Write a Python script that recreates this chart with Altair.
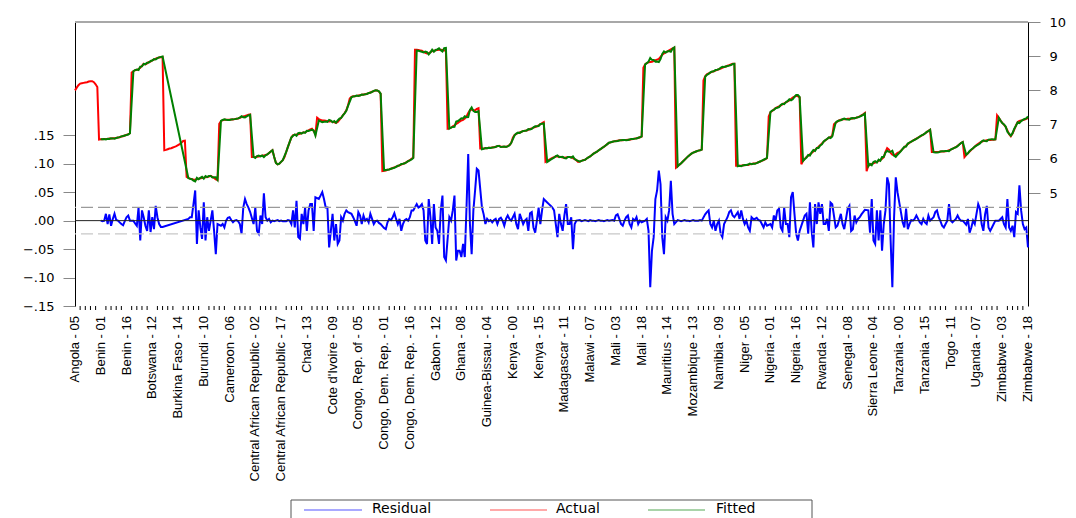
import altair as alt
import pandas as pd

# ---------------- data ----------------
TICK_LABELS = [
    "Angola - 05", "Benin - 01", "Benin - 16", "Botswana - 12", "Burkina Faso - 14",
    "Burundi - 10", "Cameroon - 06", "Central African Republic - 02",
    "Central African Republic - 17", "Chad - 13", "Cote d'Ivoire - 09",
    "Congo, Rep. of - 05", "Congo, Dem. Rep. - 01", "Congo, Dem. Rep. - 16",
    "Gabon - 12", "Ghana - 08", "Guinea-Bissau - 04", "Kenya - 00", "Kenya - 15",
    "Madagascar - 11", "Malawi - 07", "Mali - 03", "Mali - 18", "Mauritius - 14",
    "Mozambique - 13", "Namibia - 09", "Niger - 05", "Nigeria - 01", "Nigeria - 16",
    "Rwanda - 12", "Senegal - 08", "Sierra Leone - 04", "Tanzania - 00",
    "Tanzania - 15", "Togo - 11", "Uganda - 07", "Zimbabwe - 03", "Zimbabwe - 18",
]
SERIES = ["Residual", "Actual", "Fitted"]

ACTUAL = [
    # Angola
    8.00, 8.08, 8.15, 8.20, 8.21, 8.22, 8.23, 8.24, 8.26, 8.27, 8.27, 8.24, 8.18, 8.10,
    # Benin
    6.56, 6.57, 6.57, 6.58, 6.58, 6.58, 6.59, 6.59, 6.60, 6.60, 6.61, 6.62, 6.63, 6.65, 6.66, 6.68, 6.70, 6.72, 6.75,
    # Botswana
    8.52, 8.56, 8.59, 8.60, 8.62, 8.66, 8.72, 8.78, 8.76, 8.79, 8.83, 8.84, 8.88, 8.90, 8.93, 8.95, 8.96, 8.97, 8.98,
    # Burkina Faso
    6.25, 6.26, 6.28, 6.30, 6.31, 6.33, 6.35, 6.37, 6.40, 6.43, 6.47, 6.52, 6.53,
    # Burundi
    5.47, 5.44, 5.42, 5.41, 5.39, 5.39, 5.40, 5.42, 5.43, 5.44, 5.45, 5.46, 5.47, 5.48, 5.50, 5.47, 5.44, 5.40, 5.38,
    # Cameroon
    7.02, 7.10, 7.13, 7.14, 7.14, 7.14, 7.14, 7.15, 7.15, 7.16, 7.17, 7.18, 7.20, 7.22, 7.24, 7.25, 7.27, 7.29, 7.30,
    # Central African Republic
    6.05, 6.05, 6.05, 6.06, 6.07, 6.08, 6.09, 6.10, 6.11, 6.13, 6.17, 6.21, 6.25, 6.05, 5.88, 5.84, 5.86, 5.91, 5.96,
    # Chad
    6.05, 6.20, 6.35, 6.49, 6.62, 6.69, 6.70, 6.71, 6.72, 6.73, 6.75, 6.77, 6.78, 6.80, 6.83, 6.86, 6.88, 6.81, 6.72,
    # Cote d'Ivoire
    7.20, 7.16, 7.14, 7.12, 7.12, 7.11, 7.10, 7.09, 7.10, 7.08, 7.07, 7.05, 7.08, 7.14, 7.20, 7.27, 7.34, 7.42, 7.56,
    # Congo, Rep. of
    7.76, 7.81, 7.83, 7.83, 7.84, 7.85, 7.86, 7.87, 7.88, 7.89, 7.90, 7.92, 7.94, 7.96, 7.98, 8.00, 8.00, 7.97, 7.90,
    # Congo, Dem. Rep.
    5.64, 5.65, 5.66, 5.68, 5.69, 5.71, 5.73, 5.75, 5.77, 5.79, 5.81, 5.83, 5.85, 5.87, 5.90, 5.93, 5.96, 6.00, 6.04,
    # Gabon
    9.19, 9.19, 9.18, 9.17, 9.16, 9.13, 9.10, 9.08, 9.09, 9.12, 9.15, 9.16, 9.17, 9.18, 9.19, 9.19, 9.18, 9.17, 9.17,
    # Ghana
    6.88, 6.89, 6.91, 6.95, 6.98, 7.02, 7.05, 7.09, 7.12, 7.14, 7.18, 7.24, 7.34, 7.42, 7.44, 7.42, 7.42, 7.46, 7.48,
    # Guinea-Bissau
    6.30, 6.30, 6.30, 6.31, 6.31, 6.32, 6.32, 6.33, 6.34, 6.35, 6.37, 6.38, 6.35, 6.35, 6.35, 6.35, 6.37, 6.40, 6.46,
    # Kenya
    6.62, 6.70, 6.73, 6.75, 6.77, 6.79, 6.81, 6.82, 6.83, 6.85, 6.87, 6.89, 6.91, 6.93, 6.95, 6.98, 7.01, 7.04, 7.07,
    # Madagascar
    5.91, 5.94, 5.97, 6.00, 6.03, 6.05, 6.07, 6.07, 6.06, 6.05, 6.04, 6.03, 6.04, 6.05, 6.05, 6.04, 6.02, 5.99, 5.96,
    # Malawi
    5.91, 5.92, 5.94, 5.96, 5.97, 6.01, 6.04, 6.07, 6.11, 6.15, 6.18, 6.21, 6.25, 6.28, 6.32, 6.35, 6.39, 6.43, 6.47,
    # Mali
    6.48, 6.50, 6.51, 6.52, 6.53, 6.54, 6.54, 6.54, 6.55, 6.55, 6.56, 6.56, 6.57, 6.58, 6.59, 6.60, 6.61, 6.63, 6.65,
    # Mauritius
    8.66, 8.76, 8.80, 8.82, 8.83, 8.84, 8.86, 8.88, 8.90, 8.92, 8.98, 9.04, 9.08, 9.11, 9.14, 9.17, 9.20, 9.23, 9.25,
    # Mozambique
    5.74, 5.78, 5.83, 5.87, 5.92, 5.97, 6.02, 6.07, 6.11, 6.15, 6.18, 6.20, 6.22, 6.24, 6.25, 6.27,
    # Namibia
    8.29, 8.41, 8.47, 8.50, 8.52, 8.54, 8.56, 8.58, 8.60, 8.62, 8.64, 8.66, 8.68, 8.70, 8.72, 8.74, 8.76, 8.78, 8.78,
    # Niger
    5.80, 5.80, 5.80, 5.80, 5.81, 5.81, 5.82, 5.82, 5.84, 5.85, 5.86, 5.86, 5.88, 5.90, 5.92, 5.94, 5.96, 5.99, 6.02,
    # Nigeria
    7.24, 7.36, 7.40, 7.44, 7.48, 7.51, 7.53, 7.56, 7.59, 7.62, 7.65, 7.68, 7.71, 7.75, 7.79, 7.82, 7.84, 7.83, 7.79,
    # Rwanda
    5.84, 5.94, 6.00, 6.05, 6.09, 6.13, 6.17, 6.21, 6.26, 6.31, 6.35, 6.40, 6.45, 6.50, 6.54, 6.58, 6.61, 6.64, 6.68,
    # Senegal
    7.01, 7.05, 7.09, 7.12, 7.14, 7.15, 7.16, 7.16, 7.17, 7.17, 7.17, 7.18, 7.19, 7.20, 7.22, 7.24, 7.27, 7.30, 7.34,
    # Sierra Leone
    5.64, 5.80, 5.83, 5.85, 5.87, 5.89, 5.91, 5.94, 5.96, 6.00, 6.05, 6.20, 6.31, 6.27, 6.17, 6.12, 6.10, 6.13, 6.17,
    # Tanzania
    6.19, 6.24, 6.29, 6.34, 6.38, 6.43, 6.47, 6.50, 6.53, 6.56, 6.59, 6.62, 6.65, 6.68, 6.71, 6.74, 6.78, 6.82, 6.85,
    # Togo
    6.20, 6.20, 6.20, 6.20, 6.20, 6.21, 6.21, 6.21, 6.22, 6.23, 6.25, 6.27, 6.29, 6.32, 6.34, 6.38, 6.42, 6.46, 6.49,
    # Uganda
    6.05, 6.11, 6.16, 6.21, 6.26, 6.31, 6.35, 6.40, 6.44, 6.47, 6.50, 6.52, 6.53, 6.54, 6.55, 6.55, 6.56, 6.56, 6.57,
    # Zimbabwe
    7.27, 7.20, 7.12, 7.05, 7.00, 6.93, 6.83, 6.72, 6.66, 6.74, 6.85, 6.98, 7.08, 7.11, 7.12, 7.13, 7.15, 7.17, 7.19,
]

RESIDUAL = [
    # Angola (not estimated)
    None, None, None, None, None, None, None, None, None, None, None, None, None, None,
    # Benin
    None, 0.000, -0.001, 0.000, 0.012, -0.006, 0.011, -0.009, 0.003, 0.012, 0.001, 0.000, -0.003, -0.006, -0.008, -0.001, 0.006, 0.009, 0.000,
    # Botswana
    None, 0.000, -0.005, -0.009, 0.023, -0.035, 0.018, 0.006, -0.009, -0.018, 0.018, -0.020, 0.006, -0.015, 0.026, 0.006, -0.006, -0.011, -0.011,
    # Burkina Faso (not estimated)
    None, None, None, None, None, None, None, None, None, None, None, None, None,
    # Burundi
    None, 0.003, 0.006, 0.006, 0.029, 0.053, -0.041, 0.018, -0.012, -0.032, 0.032, -0.035, 0.006, -0.018, 0.000, 0.018, -0.018, -0.059, -0.006,
    # Cameroon
    None, -0.009, -0.006, -0.012, 0.000, 0.005, 0.006, 0.001, -0.003, 0.000, 0.001, -0.001, -0.006, -0.023, 0.023, 0.038, 0.029, 0.023, 0.015,
    # Central African Republic
    None, -0.006, 0.023, -0.018, -0.023, 0.009, -0.006, 0.048, 0.006, 0.000, 0.003, -0.003, 0.000, -0.001, 0.000, 0.001, -0.001, 0.000, -0.001,
    # Chad
    None, -0.001, 0.001, 0.000, -0.006, 0.018, -0.012, 0.035, -0.029, -0.032, 0.012, -0.006, 0.023, -0.018, 0.018, 0.029, 0.029, -0.018, 0.041,
    # Cote d'Ivoire
    None, 0.038, 0.044, 0.050, 0.038, 0.023, 0.023, -0.047, -0.018, 0.012, -0.035, -0.006, -0.041, -0.035, 0.006, 0.000, 0.012, 0.018, 0.015,
    # Congo, Rep. of
    None, 0.012, 0.006, -0.001, -0.009, 0.015, 0.009, -0.006, 0.009, 0.000, 0.003, -0.003, 0.012, 0.003, -0.006, -0.001, 0.000, -0.004, -0.006,
    # Congo, Dem. Rep.
    None, -0.013, -0.015, -0.003, 0.003, 0.001, 0.006, 0.013, 0.003, -0.006, 0.003, -0.018, -0.006, 0.001, 0.003, 0.000, 0.006, 0.018, 0.018,
    # Gabon
    None, 0.029, 0.023, 0.025, 0.029, 0.018, -0.035, -0.041, 0.038, 0.006, -0.041, 0.029, -0.012, -0.018, -0.041, 0.018, 0.044, -0.064, -0.070,
    # Ghana
    None, 0.006, 0.000, 0.018, 0.044, -0.070, -0.053, -0.053, -0.064, -0.041, -0.064, 0.023, 0.117, -0.006, -0.059, 0.018, 0.053, 0.091, 0.088,
    # Guinea-Bissau
    None, 0.023, 0.011, -0.006, 0.003, -0.001, 0.001, -0.003, 0.001, 0.003, -0.006, 0.003, 0.005, 0.000, -0.009, 0.003, 0.009, 0.003, 0.000,
    # Kenya
    None, 0.012, -0.006, -0.015, 0.012, 0.003, -0.006, 0.000, 0.003, -0.018, 0.013, 0.015, -0.012, -0.021, 0.000, 0.023, -0.006, 0.018, 0.038,
    # Madagascar
    None, 0.032, 0.029, 0.026, 0.023, 0.018, -0.006, -0.029, 0.012, -0.006, -0.018, 0.009, 0.029, -0.006, -0.006, 0.006, -0.050, -0.006, 0.000,
    # Malawi
    None, 0.001, -0.001, 0.000, 0.001, 0.000, -0.001, 0.001, 0.000, 0.000, -0.001, 0.000, 0.001, 0.000, 0.000, -0.001, 0.000, 0.001, 0.000,
    # Mali
    None, 0.001, 0.000, 0.009, 0.011, 0.003, -0.006, -0.009, 0.000, 0.006, 0.009, -0.006, -0.012, 0.003, 0.000, 0.006, -0.006, 0.000, -0.003,
    # Mauritius
    None, 0.000, 0.003, -0.018, -0.117, -0.053, -0.029, 0.038, 0.053, 0.088, 0.064, -0.029, -0.059, 0.006, 0.000, 0.018, 0.070, 0.012, -0.006,
    # Mozambique
    None, 0.001, 0.000, -0.001, 0.000, 0.001, 0.000, 0.000, -0.001, 0.000, 0.001, 0.000, 0.000, 0.000, 0.001, 0.000,
    # Namibia
    None, 0.011, 0.015, 0.018, -0.006, -0.012, 0.000, -0.018, -0.006, 0.000, -0.023, -0.029, -0.006, 0.000, 0.006, 0.015, 0.018, 0.009, 0.006,
    # Niger
    None, 0.015, 0.003, 0.018, 0.003, -0.006, 0.000, -0.012, -0.018, 0.006, 0.003, 0.003, 0.005, 0.001, 0.000, -0.006, -0.012, -0.003, -0.009,
    # Nigeria
    None, -0.006, -0.012, 0.009, 0.000, 0.018, 0.021, -0.012, -0.018, 0.023, -0.006, -0.006, -0.029, 0.041, 0.050, 0.012, -0.023, -0.035, -0.018,
    # Rwanda
    None, 0.000, 0.009, 0.012, -0.023, 0.032, -0.018, -0.047, 0.029, -0.006, 0.032, 0.012, 0.029, -0.006, -0.006, 0.003, -0.018, 0.032, 0.029,
    # Senegal
    None, -0.012, -0.009, 0.001, 0.012, -0.006, -0.015, 0.003, 0.021, 0.026, -0.018, -0.015, 0.009, -0.003, 0.003, 0.006, 0.011, 0.015, 0.019,
    # Sierra Leone
    None, 0.018, -0.021, 0.038, -0.035, -0.041, 0.018, -0.035, 0.018, -0.053, -0.006, 0.018, 0.076, 0.064, -0.035, -0.117, 0.006, 0.076, 0.050,
    # Tanzania
    None, 0.015, -0.003, -0.012, 0.021, -0.015, -0.006, 0.001, 0.000, 0.003, 0.009, 0.003, -0.003, -0.006, 0.003, -0.003, -0.006, 0.009, 0.000,
    # Togo
    None, 0.006, 0.015, 0.018, 0.006, -0.001, -0.009, -0.012, -0.006, 0.000, 0.029, 0.000, -0.003, 0.000, 0.003, 0.009, 0.003, 0.000, 0.000,
    # Uganda
    None, -0.007, 0.003, -0.021, -0.012, 0.000, -0.006, 0.012, 0.029, 0.021, -0.006, -0.018, 0.011, 0.026, -0.012, -0.018, -0.012, -0.006, 0.000,
    # Zimbabwe
    None, 0.000, 0.003, 0.006, -0.006, -0.012, 0.038, -0.012, -0.018, -0.009, -0.029, 0.015, 0.012, 0.062, 0.018, -0.006, -0.015, -0.012, -0.047,
]

SE_BAND = 0.0234  # +/- one standard error of regression (dashed lines)

N = len(ACTUAL)
assert N == 556, N
assert len(RESIDUAL) == N, len(RESIDUAL)

# ---------------- tables ----------------
df_act = pd.DataFrame({"obs": list(range(N)), "value": ACTUAL})
res_pairs = [(i, r) for i, r in enumerate(RESIDUAL) if r is not None]
df_res = pd.DataFrame(res_pairs, columns=["obs", "value"])
# fitted = actual - residual
df_fit = pd.DataFrame([(i, round(ACTUAL[i] - r, 4)) for i, r in res_pairs], columns=["obs", "value"])
df_lab = pd.DataFrame({"obs": list(range(0, N, 15)), "label": TICK_LABELS})
df_minor = pd.DataFrame({"obs": [i for i in range(0, N, 3) if i % 15 != 0]})
one = pd.DataFrame({"a": [0]})

# ---------------- layout ----------------
W, H = 953, 284
x_scale = alt.Scale(domain=[0, N - 1], nice=False, zero=False)
res_scale = alt.Scale(domain=[-0.15, 0.349], nice=False, zero=False)
lvl_scale = alt.Scale(domain=[1.696, 10.0], nice=False, zero=False)

x_axis = alt.Axis(
    values=list(range(0, N, 15)), labels=False,
    tickSize=4, tickColor="black", domainColor="black", domainWidth=1,
    grid=False, title=None, orient="bottom",
)
res_axis = alt.Axis(
    orient="left", values=[-0.15, -0.10, -0.05, 0.0, 0.05, 0.10, 0.15],
    labelExpr="replace(format(datum.value, '.2f'), '0.', '.')",
    labelFont="DejaVu Sans", labelFontSize=13, labelColor="black", labelPadding=9,
    tickSize=12, tickColor="#888888", domainColor="black", domainWidth=1,
    grid=False, title=None,
)
lvl_axis = alt.Axis(
    orient="right", values=[5, 6, 7, 8, 9, 10], format="d",
    labelFont="DejaVu Sans", labelFontSize=13, labelColor="black", labelPadding=9,
    tickSize=12, tickColor="#888888", domainColor="black", domainWidth=1,
    grid=False, title=None,
)

# ---- residual (left) scale ----
resid = alt.Chart(df_res).mark_line(color="#0000ff", strokeWidth=2).encode(
    x=alt.X("obs:Q", scale=x_scale, axis=x_axis),
    y=alt.Y("value:Q", scale=res_scale, axis=res_axis),
)
zero_line = alt.Chart(pd.DataFrame({"value": [0.0]})).mark_rule(color="#222222", strokeWidth=1).encode(
    y=alt.Y("value:Q", scale=res_scale, axis=None)
)
se_up = alt.Chart(pd.DataFrame({"value": [SE_BAND]})).mark_rule(
    color="#9a9a9a", strokeWidth=1.2, strokeDash=[12, 5]
).encode(y=alt.Y("value:Q", scale=res_scale, axis=None))
se_dn = alt.Chart(pd.DataFrame({"value": [-SE_BAND]})).mark_rule(
    color="#c8c8c8", strokeWidth=1.2, strokeDash=[12, 5]
).encode(y=alt.Y("value:Q", scale=res_scale, axis=None))

# x tick labels (rotated, reading upward), minor ticks, top frame line
x_labels = alt.Chart(df_lab).mark_text(
    angle=270, align="right", baseline="middle",
    font="Liberation Sans", fontSize=13, color="black",
).encode(
    x=alt.X("obs:Q", scale=x_scale, axis=None),
    y=alt.value(H + 10),
    text="label:N",
)
minor_ticks = alt.Chart(df_minor).mark_rule(color="black", strokeWidth=1).encode(
    x=alt.X("obs:Q", scale=x_scale, axis=None),
    y=alt.value(H), y2=alt.value(H + 4),
)
top_border = alt.Chart(one).mark_rule(color="#a8a8a8", strokeWidth=2).encode(
    x=alt.value(0), x2=alt.value(W), y=alt.value(0)
)

# legend (drawn manually, EViews style)
legend_box = alt.Chart(one).mark_rect(fill="white", stroke="#555555", strokeWidth=1).encode(
    x=alt.value(216), x2=alt.value(737), y=alt.value(478), y2=alt.value(506)
)
leg_items = []
for (x1, x2, tx, col, name) in [
    (229, 287, 297, "#8c8cff", SERIES[0]),
    (415, 472, 481, "#ff8c8c", SERIES[1]),
    (573, 630, 641, "#8cc48c", SERIES[2]),
]:
    leg_items.append(
        alt.Chart(one).mark_rule(color=col, strokeWidth=1.5).encode(
            x=alt.value(x1), x2=alt.value(x2), y=alt.value(488)
        )
    )
    leg_items.append(
        alt.Chart(one).mark_text(
            align="left", baseline="middle", font="DejaVu Sans", fontSize=14, color="black"
        ).encode(x=alt.value(tx), y=alt.value(486.5), text=alt.value(name))
    )

# ---- level (right) scale ----
actual = alt.Chart(df_act).mark_line(color="#ff0000", strokeWidth=2).encode(
    x=alt.X("obs:Q", scale=x_scale, axis=None),
    y=alt.Y("value:Q", scale=lvl_scale, axis=lvl_axis),
)
fitted = alt.Chart(df_fit).mark_line(color="#008000", strokeWidth=2).encode(
    x=alt.X("obs:Q", scale=x_scale, axis=None),
    y=alt.Y("value:Q", scale=lvl_scale, axis=None),
)

chart = (
    alt.layer(
        resid, se_up, se_dn, zero_line, actual, fitted,
        x_labels, minor_ticks, top_border, legend_box, *leg_items,
    )
    .resolve_scale(y="independent")
    .properties(
        width=W, height=H,
        padding={"left": 67, "top": 14, "right": 40, "bottom": 212},
        autosize=alt.AutoSizeParams(type="none"),
    )
    .configure_view(stroke=None)
)

chart.save("out.html", embed_options={"renderer": "svg", "actions": False})
